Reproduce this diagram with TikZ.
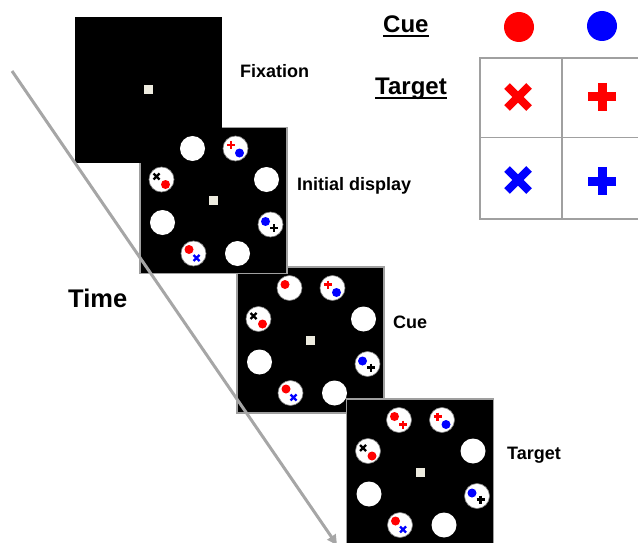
\documentclass[tikz,border=0pt]{standalone}
\usepackage{fontspec}
\setmainfont{Liberation Sans}
\usetikzlibrary{arrows.meta, positioning}

\definecolor{fixcol}{HTML}{EDEBDF}
\definecolor{timegray}{HTML}{A6A6A6}
\definecolor{gridgray}{HTML}{A0A0A0}

\tikzset{
	smallx/.pic={\draw[line width=2.4pt] (-3,-3) -- (3,3) (-3,3) -- (3,-3);},
	smallp/.pic={\draw[line width=2.4pt] (-4,0) -- (4,0) (0,-4) -- (0,4);},
	bigx/.pic={\draw[line width=8pt] (-11,-11) -- (11,11) (-11,11) -- (11,-11);},
	bigp/.pic={\draw[line width=9pt] (-14,0) -- (14,0) (0,-14) -- (0,14);}
}

\begin{document}
\begin{tikzpicture}[x=1pt, y=-1pt,
		screen/.style={fill=black, minimum width=147pt, minimum height=146pt, inner sep=0pt},
		framed/.style={draw=gray!75, line width=1.2pt},
		fixpt/.style={fill=fixcol, minimum size=9pt, inner sep=0pt},
		disk/.style={circle, fill=white, minimum size=25pt, inner sep=0pt},
		rim/.style={draw=black!50, line width=0.6pt},
		lbl/.style={anchor=base west, inner sep=0pt, font=\bfseries\fontsize{18}{20}\selectfont},
		head/.style={lbl, font=\bfseries\fontsize{24}{26}\selectfont},
		uline/.style={line width=2pt},
		legdot/.style={circle, minimum size=30pt, inner sep=0pt},
		grid/.style={draw=gridgray, line width=1.3pt},
		timeline/.style={draw=timegray, line width=3pt, -{Triangle[length=10pt, width=10pt]}}]
	\useasboundingbox (0,0) rectangle (638,543);
	\clip (0,0) rectangle (638,543);

	\node[screen, framed] (d3) at (310.5,340) {};
	\node[screen, framed] (d4) at (420,472) {};
	\node[screen, framed] (d2) at (213.5,200.5) {};
	\node[screen] (d1) at (148.5,90) {};

	\foreach \d in {1,...,4}
		\node[fixpt] (f\d) at (d\d) {};

	\foreach \d in {2,3,4}
		\foreach \i/\dx/\dy in {1/-21/-52, 2/22/-52, 3/53/-21, 4/57/24, 5/24/53, 6/-20/53, 7/-51/22, 8/-52/-21}
			\node[disk] (d\d-\i) at ([shift={(\dx,\dy)}]d\d.center) {};

	\foreach \d/\i in {2/2, 2/4, 2/6, 2/8, 3/1, 3/2, 3/4, 3/6, 3/8, 4/1, 4/2, 4/4, 4/6, 4/8}
		\draw[rim] (d\d-\i.center) circle (12.5pt);

	\foreach \d in {2,3,4} {
		\pic[red] at ([shift={(-4.5,-3.5)}]d\d-2.center) {smallp};
		\fill[blue] ([shift={(4,4.5)}]d\d-2.center) circle (4.5pt);
		\pic at ([shift={(-5,-3)}]d\d-8.center) {smallx};
		\fill[red] ([shift={(4,5)}]d\d-8.center) circle (4.5pt);
		\fill[blue] ([shift={(-5,-3)}]d\d-4.center) circle (4.5pt);
		\pic at ([shift={(3.5,3.5)}]d\d-4.center) {smallp};
		\fill[red] ([shift={(-4.5,-4)}]d\d-6.center) circle (4.5pt);
		\pic[blue] at ([shift={(3,4.5)}]d\d-6.center) {smallx};
	}
	\foreach \d in {3,4}
		\fill[red] ([shift={(-4.5,-3.5)}]d\d-1.center) circle (4.5pt);
	\pic[red] at ([shift={(4,4.5)}]d4-1.center) {smallp};

	\node[lbl] (fixlbl) at (240,78) {Fixation};
	\node[lbl] (initlbl) at (297,190.5) {Initial display};
	\node[lbl] (cuelbl) at (393,328) {Cue};
	\node[lbl] (tgtlbl) at (507,459) {Target};
	\node[lbl, font=\bfseries\fontsize{25.5}{28}\selectfont] (time) at (68,307) {Time};

	\node[head] (lcue) at (383,33) {Cue};
	\node[head] (ltgt) at (375,95) {Target};
	\draw[uline] ([yshift=-3pt]lcue.base west) -- ([yshift=-3pt]lcue.base east);
	\draw[uline] ([yshift=-3pt]ltgt.base west) -- ([yshift=-3pt]ltgt.base east);

	\node[legdot, fill=red] (redcue) at (519,27) {};
	\node[legdot, fill=blue] (bluecue) at (602,26) {};
	\draw[grid] (480,58) rectangle (650,219);
	\draw[grid] (562,58) -- (562,219) (480,137.5) -- (650,137.5);
	\pic[red] at (518,97) {bigx};
	\pic[red] at (602,97) {bigp};
	\pic[blue] at (518,180) {bigx};
	\pic[blue] at (602,181) {bigp};

	\coordinate (tstart) at (12,71);
	\coordinate (tend) at (337,545);
	\draw[timeline] (tstart) -- (tend);
\end{tikzpicture}
\end{document}
